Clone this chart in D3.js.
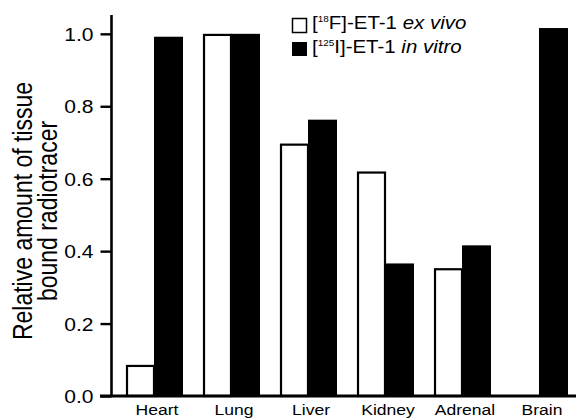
<!DOCTYPE html>
<html><head><meta charset="utf-8">
<script src="https://cdn.jsdelivr.net/npm/d3@7"></script>
<style>body{margin:0;background:#fff}svg{display:block}text{font-family:"Liberation Sans",Arial,sans-serif;fill:#000}</style>
</head><body>
<svg id="c" width="576" height="418"></svg>
<script>
const categories = ["Heart","Lung","Liver","Kidney","Adrenal","Brain"];
const exVivo = [0.083, 0.997, 0.694, 0.617, 0.35, 0];
const inVitro = [0.992, 1.0, 0.763, 0.366, 0.416, 1.016];
const yTicks = [0, 0.2, 0.4, 0.6, 0.8, 1.0];
const seriesNames = ["ex vivo", "in vitro"];

const SX = 1.17; // horizontal glyph stretch seen in the reference
const FONT = '"Liberation Sans",Arial,sans-serif';
const svg = d3.select("#c");
const x = d3.scaleBand().domain(categories).range([116, 577]).paddingInner(0.273).paddingOuter(0.13);
const xs = d3.scaleBand().domain([0,1]).range([0, x.bandwidth()]);
const y = d3.scaleLinear().domain([0, 1.052]).range([396, 15]);

// bars
const g = svg.append("g");
categories.forEach((c, i) => {
  if (exVivo[i] > 0) {
    g.append("rect").attr("x", x(c) + xs(0) + 1).attr("y", y(exVivo[i]))
      .attr("width", xs.bandwidth() - 1).attr("height", y(0) - y(exVivo[i]))
      .attr("fill", "#fff").attr("stroke", "#000").attr("stroke-width", 2.2);
  }
  g.append("rect").attr("x", x(c) + xs(1)).attr("y", y(inVitro[i]))
    .attr("width", xs.bandwidth() + 1).attr("height", y(0) - y(inVitro[i]))
    .attr("fill", "#000");
});

// y axis
const ya = svg.append("g").attr("transform", "translate(111.5,0)")
  .call(d3.axisLeft(y).tickValues(yTicks).tickFormat(d3.format(".1f")).tickSize(11).tickSizeOuter(0));
ya.select(".domain").attr("stroke-width", 2.6).attr("d", `M0,${y(1.052)}V${y(0)}`);
ya.selectAll(".tick line").attr("stroke-width", 2.4);
ya.selectAll(".tick text").attr("x", -18 / SX).attr("dy", "0.36em")
  .attr("transform", `scale(${SX},1)`)
  .style("font-size", "18px").style("font-family", FONT);

// x axis
const xa = svg.append("g").attr("transform", `translate(0,${y(0)})`)
  .call(d3.axisBottom(x).tickSize(0).tickSizeOuter(0));
xa.select(".domain").attr("stroke-width", 2.8).attr("d", "M100,0H576");
xa.selectAll(".tick text").attr("x", 3 / SX).attr("y", 8.5)
  .attr("transform", `scale(${SX},1)`)
  .style("font-size", "15px").style("font-family", FONT);

// y title
const yt = svg.append("text").attr("transform", `translate(32,211) rotate(-90) scale(1,${SX})`)
  .attr("text-anchor", "middle").style("font-size", "23px");
yt.append("tspan").attr("x", 0).attr("dy", 0).text("Relative amount of tissue");
yt.append("tspan").attr("x", 0).attr("dy", 25 / SX).text("bound radiotracer");

// legend
const leg = svg.append("g");
leg.append("rect").attr("x", 292.5).attr("y", 18.5).attr("width", 14).attr("height", 14)
  .attr("fill", "#fff").attr("stroke", "#000").attr("stroke-width", 1.5);
leg.append("rect").attr("x", 292).attr("y", 42).attr("width", 15).attr("height", 14).attr("fill", "#000");
function legendText(yb, sup, rest, name) {
  const t = leg.append("text").attr("transform", `translate(312,${yb}) scale(${SX},1)`).style("font-size", "17.5px");
  t.append("tspan").text("[");
  t.append("tspan").attr("dy", -7).style("font-size", "8.5px").text(sup);
  t.append("tspan").attr("dy", 7).text(rest);
  t.append("tspan").style("font-style", "italic").text(name);
}
legendText(28.5, "18", "F]-ET-1 ", seriesNames[0]);
legendText(53, "125", "I]-ET-1 ", seriesNames[1]);
</script>
</body></html>
